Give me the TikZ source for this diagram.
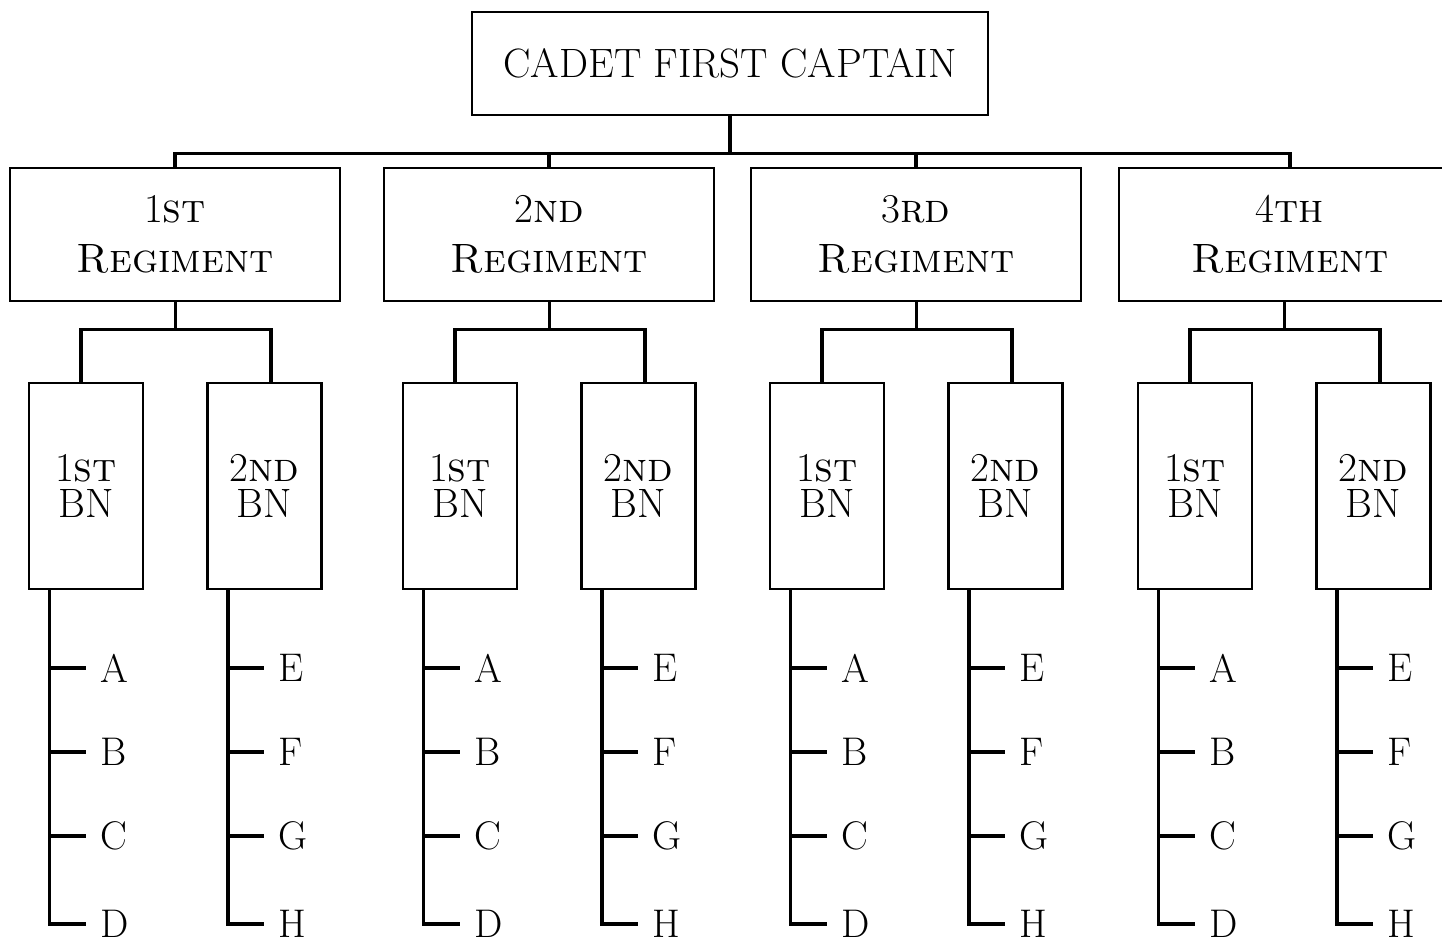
\documentclass[tikz,border=0pt]{standalone}
\usetikzlibrary{positioning}
\tikzset{
    unitbox/.style={draw, line width=1.4pt, inner sep=0pt, align=center},
    regbox/.style={unitbox, minimum height=66.5pt, font=\fontsize{20.5}{25}\selectfont},
    bnbox/.style={unitbox, minimum width=57pt, minimum height=103pt, font=\fontsize{20.5}{18}\selectfont},
    letterlbl/.style={inner sep=0pt, anchor=west, font=\fontsize{20}{24}\selectfont},
    link/.style={line width=1.7pt},
}
\begin{document}
\begin{tikzpicture}[x=0.5pt, y=-0.5pt]
    \useasboundingbox[clip] (0,0) rectangle (1442,939);
    \node[unitbox, minimum width=258pt, minimum height=51.5pt, font=\fontsize{20.5}{24}\selectfont] (captain) at (730,63.5) {CADET FIRST CAPTAIN};
    \foreach \l/\w/\num/\suf [count=\i] in {10/330/1/st, 384/330/2/nd, 751/330/3/rd, 1119/342/4/th} {
        \node[regbox, minimum width=\w*0.5pt] (reg\i) at (\l+\w/2,234.5) {\num\textsc{\suf}\\\textsc{Regiment}};
        \draw[link] (captain.south) -- ++(0,37) -| (reg\i.north);
        \node[bnbox] (bn\i a) at (\l+76,486) {1\textsc{st}\\BN};
        \node[bnbox] (bn\i b) at (\l+254.5,486) {2\textsc{nd}\\BN};
        \draw[link] ([xshift=83.5pt]reg\i.south west) -- ++(0,27) -| ([xshift=-2.5pt]bn\i a.north);
        \draw[link] ([xshift=83.5pt]reg\i.south west) -- ++(0,27) -| ([xshift=3.25pt]bn\i b.north);
        % companies under each battalion
        \foreach \side/\marks in {a/{A/668,B/752,C/836,D/924}, b/{E/668,F/752,G/836,H/924}} {
            \coordinate (sp\i\side) at ([xshift=11pt]bn\i\side.south west);
            \foreach \c/\y [count=\k] in \marks {
                \node[letterlbl] (l\i\side\k) at ([xshift=25pt]sp\i\side |- 0,\y) {\c};
                \draw[link] (sp\i\side |- l\i\side\k.west) -- ([xshift=-7pt]l\i\side\k.west);
            }
            \draw[link] (sp\i\side) |- ([xshift=-7pt]l\i\side4.west);
        }
    }
\end{tikzpicture}
\end{document}
